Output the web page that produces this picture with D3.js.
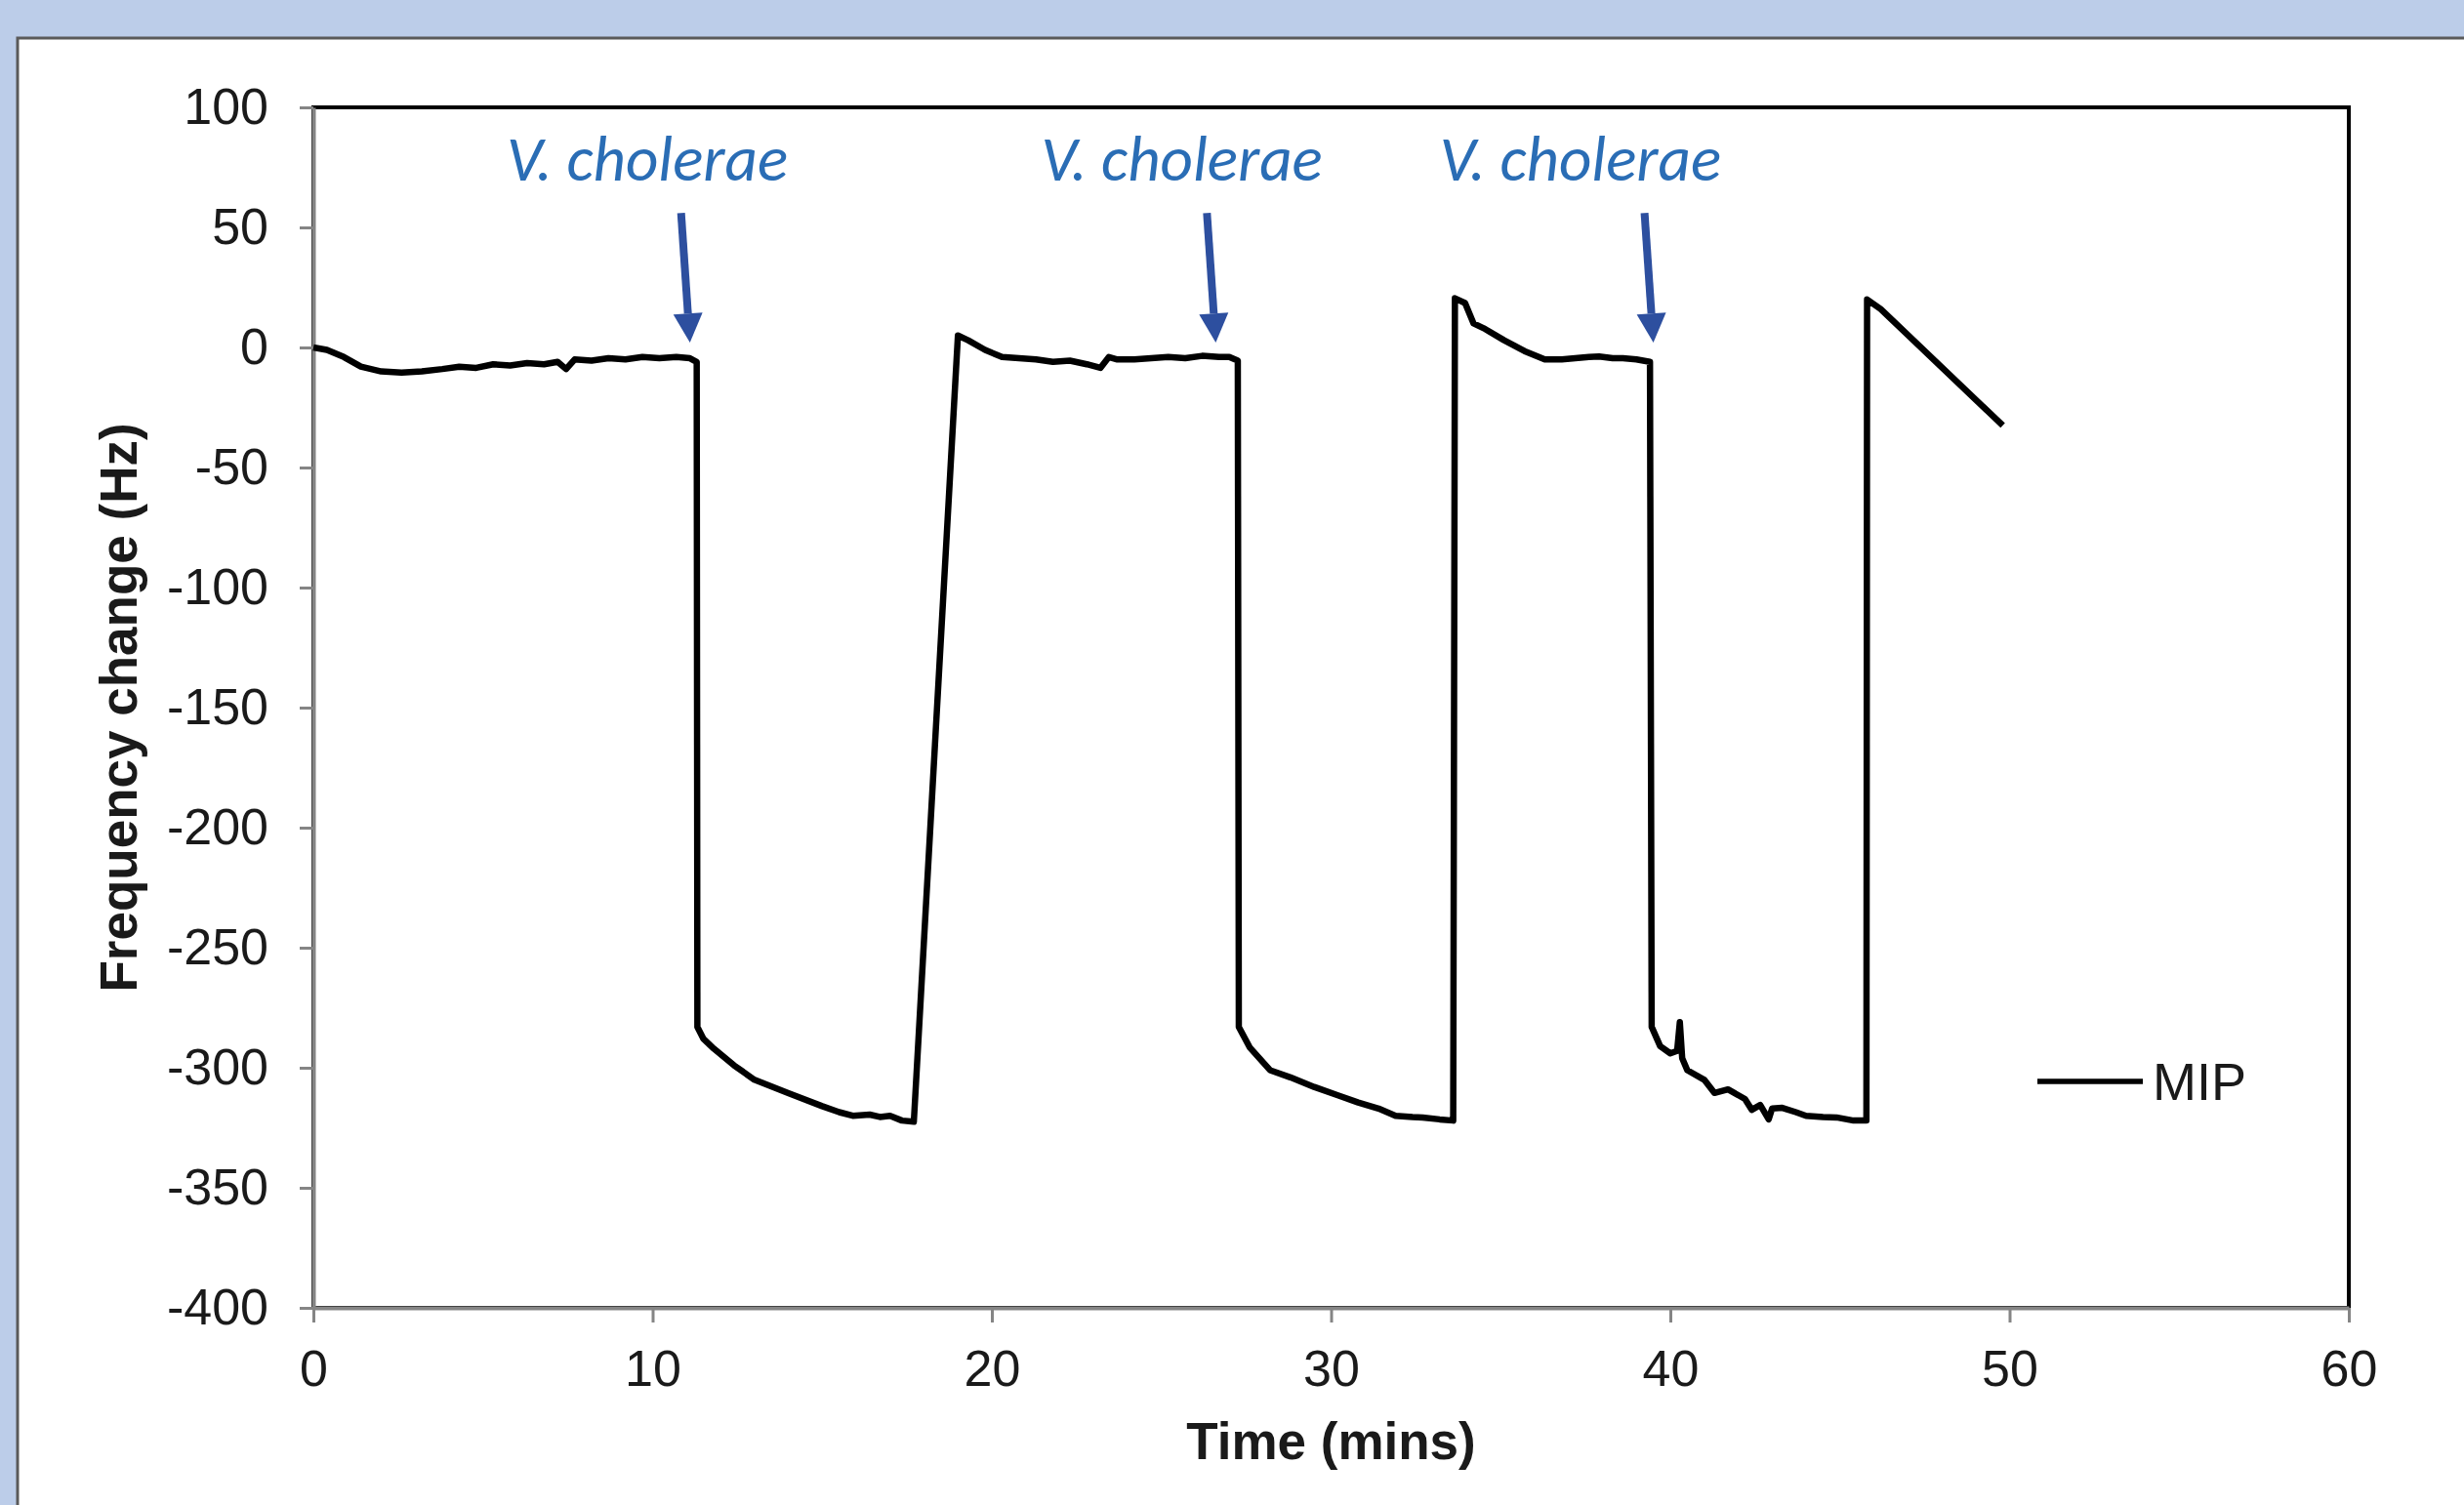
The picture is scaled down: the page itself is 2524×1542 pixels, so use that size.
<!DOCTYPE html>
<html>
<head>
<meta charset="utf-8">
<script src="https://cdn.jsdelivr.net/npm/d3@7"></script>
<style>
  html, body { margin: 0; padding: 0; background: #bccde9; }
  svg { display: block; }
</style>
</head>
<body>
<svg id="chart" width="2524" height="1542"></svg>
<script>
// time (min) and frequency change (Hz)
var timeMin = [
  0, 0.4, 0.9, 1.4, 2.0, 2.6, 3.2, 3.8, 4.3, 4.8, 5.3, 5.8, 6.3, 6.8, 7.2, 7.45, 7.7, 8.2, 8.7, 9.2, 9.7, 10.2, 10.7, 11.1, 11.3,
  11.32, 11.5, 11.8, 12.4, 13.0, 14.0, 15.0, 15.5, 15.9, 16.4, 16.7, 17.0, 17.35, 17.7,
  19.0, 19.3, 19.8, 20.3, 20.8, 21.3, 21.8, 22.3, 22.8, 23.2, 23.45, 23.7, 24.2, 24.7, 25.2, 25.7, 26.2, 26.7, 27.0, 27.25,
  27.28, 27.6, 28.2, 28.8, 29.5, 30.2, 30.8, 31.4, 31.9, 32.4, 32.7, 33.2, 33.6,
  33.65, 33.95, 34.2, 34.5, 35.1, 35.7, 36.3, 36.8, 37.2, 37.6, 37.9, 38.3, 38.6, 39.0, 39.4,
  39.45, 39.7, 40.0, 40.2, 40.28, 40.35, 40.5, 41.0, 41.3, 41.7, 42.2, 42.4, 42.65, 42.9, 43.0, 43.3, 43.7, 44.0, 44.5, 44.9, 45.4, 45.78,
  45.8, 46.2, 49.8
];
var freqHz = [
  0, -1, -4, -8, -10, -10.5, -10, -9, -8, -8.5, -7, -7.5, -6.5, -7, -6, -9, -5, -5.5, -4.5, -5, -4, -4.5, -4, -4.5, -6,
  -283, -288, -292, -299, -305, -310.6, -316, -318.5, -320, -319.5, -320.5, -320, -322, -322.5,
  5, 3, -1, -4, -4.5, -5, -6, -5.5, -7, -8.5, -4, -5, -5, -4.5, -4, -4.5, -3.5, -4, -4, -5.5,
  -283, -291.5, -301, -304, -308, -311.5, -314.5, -317, -320, -320.5, -320.7, -321.5, -322,
  20.5, 18.5, 10, 8, 3, -1.5, -5, -5, -4.5, -4, -3.8, -4.5, -4.5, -5, -6,
  -283, -291, -294, -293, -281, -296, -301, -305, -310.5, -309, -313, -317.5, -315.5, -321.5, -317, -316.7, -318.5, -320, -320.5, -320.7, -322, -322,
  20, 16, -32.5
];

var xTicks = [0, 10, 20, 30, 40, 50, 60];
var yTicks = [100, 50, 0, -50, -100, -150, -200, -250, -300, -350, -400];

// injection marks
var injectTime = [11.1, 26.6, 39.5];
var injectLabelTime = [9.84, 25.6, 37.35];
var injectLabel = "V. cholerae";
var seriesName = "MIP";

var svg = d3.select("#chart");
var W = 2524, H = 1542;
var m = {left: 321, right: 2406, top: 110, bottom: 1340};

var x = d3.scaleLinear().domain([0, 60]).range([m.left, m.right]);
var y = d3.scaleLinear().domain([-400, 100]).range([m.bottom, m.top]);

// white panel
svg.append("rect")
  .attr("x", 18).attr("y", 39)
  .attr("width", W).attr("height", H)
  .attr("fill", "#ffffff")
  .attr("stroke", "#5a5a5a")
  .attr("stroke-width", 3);

// plot border (top and right show black)
svg.append("rect")
  .attr("x", m.left).attr("y", m.top)
  .attr("width", m.right - m.left).attr("height", m.bottom - m.top)
  .attr("fill", "none")
  .attr("stroke", "#000")
  .attr("stroke-width", 4);

var tickFont = "'Liberation Sans', Arial, sans-serif";
var plainNum = function(d){ return String(d); }; // keep ascii hyphen

var gx = svg.append("g")
  .attr("transform", "translate(0," + m.bottom + ")")
  .call(d3.axisBottom(x).tickValues(xTicks).tickFormat(plainNum).tickSize(15).tickPadding(28).tickSizeOuter(0));
var gy = svg.append("g")
  .attr("transform", "translate(" + m.left + ",0)")
  .call(d3.axisLeft(y).tickValues(yTicks).tickFormat(plainNum).tickSize(14).tickPadding(32).tickSizeOuter(0));

[gx, gy].forEach(function(g){
  g.select(".domain").attr("stroke", "#858585").attr("stroke-width", 4);
  g.selectAll(".tick line").attr("stroke", "#858585").attr("stroke-width", 3);
  g.selectAll(".tick text")
    .attr("fill", "#1a1a1a")
    .style("font-family", tickFont)
    .style("font-size", "52px");
});

// axis titles
svg.append("text")
  .attr("x", (m.left + m.right) / 2).attr("y", 1495)
  .attr("text-anchor", "middle")
  .style("font-family", tickFont).style("font-weight", "bold").style("font-size", "53px")
  .attr("fill", "#1a1a1a")
  .text("Time (mins)");

svg.append("text")
  .attr("transform", "translate(140," + (m.top + m.bottom) / 2 + ") rotate(-90)")
  .attr("text-anchor", "middle")
  .style("font-family", tickFont).style("font-weight", "bold").style("font-size", "53px")
  .attr("fill", "#1a1a1a")
  .text("Frequency change (Hz)");

// trace
var trace = timeMin.map(function(t, i){ return {t: t, f: freqHz[i]}; });
var line = d3.line()
  .x(d => x(d.t))
  .y(d => y(d.f));

svg.append("path")
  .datum(trace)
  .attr("d", line)
  .attr("fill", "none")
  .attr("stroke", "#000")
  .attr("stroke-width", 6.5)
  .attr("stroke-linejoin", "round");

// injection arrows + labels
injectTime.forEach(function(t, i){
  var x1 = x(t - 0.26), y1 = y(56);
  var x2 = x(t), y2 = y(2);
  var ang = Math.atan2(y2 - y1, x2 - x1);
  var headLen = 30, headW = 15;
  var bx = x2 - headLen * Math.cos(ang), by = y2 - headLen * Math.sin(ang);
  var px = -Math.sin(ang), py = Math.cos(ang);

  svg.append("line")
    .attr("x1", x1).attr("y1", y1)
    .attr("x2", bx).attr("y2", by)
    .attr("stroke", "#2d4f9f")
    .attr("stroke-width", 8);

  svg.append("path")
    .attr("d", "M" + x2 + "," + y2 +
      "L" + (bx + px * headW) + "," + (by + py * headW) +
      "L" + (bx - px * headW) + "," + (by - py * headW) + "Z")
    .attr("fill", "#2d4f9f");

  svg.append("text")
    .attr("x", x(injectLabelTime[i])).attr("y", y(69.5))
    .attr("text-anchor", "middle")
    .style("font-family", "Carlito, Lato, 'Open Sans', sans-serif")
    .style("font-style", "italic")
    .style("font-size", "65px")
    .attr("fill", "#2a6db5")
    .text(injectLabel);
});

// legend
svg.append("line")
  .attr("x1", 2087).attr("x2", 2195)
  .attr("y1", 1108).attr("y2", 1108)
  .attr("stroke", "#000").attr("stroke-width", 5.5);
svg.append("text")
  .attr("x", 2205).attr("y", 1127)
  .style("font-family", tickFont).style("font-size", "54px")
  .attr("fill", "#1a1a1a")
  .text(seriesName);
</script>
</body>
</html>
